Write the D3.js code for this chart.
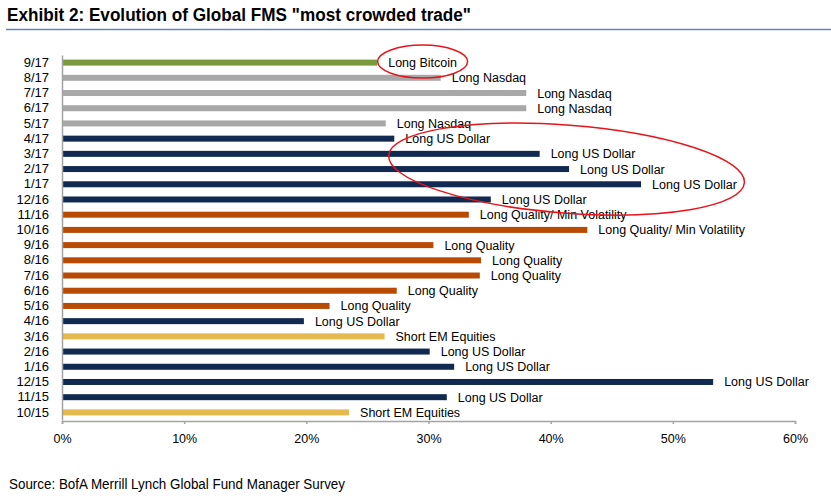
<!DOCTYPE html>
<html>
<head>
<meta charset="utf-8">
<script src="https://cdn.jsdelivr.net/npm/d3@7"></script>
<style>
  body { margin: 0; background: #fff; }
  text { font-family: "Liberation Sans", Arial, sans-serif; fill: #000; }
</style>
</head>
<body>
<div class="canva"></div>
<script>
// survey months, newest first (top of chart)
const months = ["9/17","8/17","7/17","6/17","5/17","4/17","3/17","2/17","1/17","12/16","11/16","10/16",
                "9/16","8/16","7/16","6/16","5/16","4/16","3/16","2/16","1/16","12/15","11/15","10/15"];
// % of respondents naming the trade
const shares = [25.8,31.0,38.0,38.0,26.5,27.2,39.1,41.5,47.4,35.1,33.3,43.0,
                30.4,34.3,34.2,27.4,21.9,19.8,26.4,30.1,32.1,53.3,31.5,23.5];
const trades = ["Long Bitcoin","Long Nasdaq","Long Nasdaq","Long Nasdaq","Long Nasdaq","Long US Dollar",
                "Long US Dollar","Long US Dollar","Long US Dollar","Long US Dollar","Long Quality/ Min Volatility",
                "Long Quality/ Min Volatility","Long Quality","Long Quality","Long Quality","Long Quality",
                "Long Quality","Long US Dollar","Short EM Equities","Long US Dollar","Long US Dollar",
                "Long US Dollar","Long US Dollar","Short EM Equities"];
const xTicks = [0,10,20,30,40,50,60];

const width = 831, height = 503;

const svg = d3.select(".canva").append("svg")
              .attr("width", width)
              .attr("height", height);

const x = d3.scaleLinear().domain([0, 60]).range([62, 795]);
const y = d3.scaleBand().domain(months).range([55, 420]);

const color = d3.scaleOrdinal()
  .domain(["Long US Dollar","Long Quality","Long Quality/ Min Volatility","Short EM Equities","Long Nasdaq","Long Bitcoin"])
  .range(["#112a51","#b94a02","#b94a02","#e4ba4e","#a8a8a8","#7b9a3d"]);

// Title + rule
svg.append("text")
  .attr("x", 7).attr("y", 21)
  .attr("textLength", 464).attr("lengthAdjust", "spacingAndGlyphs")
  .style("font-size", "18px").style("font-weight", "bold")
  .text('Exhibit 2: Evolution of Global FMS "most crowded trade"');
svg.append("line")
  .attr("x1", 6).attr("x2", 831).attr("y1", 29.5).attr("y2", 29.5)
  .attr("stroke", "#6586bb").attr("stroke-width", 1.5);

// Bars
const rows = months.map((m, i) => ({month: m, value: shares[i], trade: trades[i]}));

svg.selectAll("rect.bar")
  .data(rows)
  .enter()
  .append("rect")
  .attr("class", "bar")
  .attr("x", x(0))
  .attr("y", d => y(d.month) + y.bandwidth() / 2 - 3)
  .attr("width", d => x(d.value) - x(0))
  .attr("height", 6)
  .attr("fill", d => color(d.trade));

// Trade labels
const labels = svg.selectAll("text.lab")
  .data(rows)
  .enter()
  .append("text")
  .attr("class", "lab")
  .attr("x", d => x(d.value) + 11)
  .attr("y", d => y(d.month) + y.bandwidth() / 2)
  .attr("dy", "0.36em")
  .style("font-size", "12.5px")
  .text(d => d.trade);

// Axes
const yAxis = svg.append("g")
  .attr("transform", `translate(${x(0)},0)`)
  .call(d3.axisLeft(y).tickSize(0).tickPadding(13));
yAxis.selectAll("text").style("font-size", "13px").attr("font-family", null);

const xAxis = svg.append("g")
  .attr("transform", `translate(0,${y.range()[1] + 1})`)
  .call(d3.axisBottom(x).tickValues(xTicks).tickSize(3).tickSizeOuter(3).tickPadding(10)
          .tickFormat(d => d + "%"));
xAxis.selectAll("text").style("font-size", "12.5px").attr("font-family", null);

svg.selectAll(".domain, .tick line").attr("stroke", "#a3a3a3").attr("stroke-width", 1.5);

// Red circles
const btc = labels.filter(d => d.month === "9/17").node().getBBox();
svg.append("ellipse")
  .attr("cx", btc.x + btc.width / 2)
  .attr("cy", y("9/17") + y.bandwidth() / 2 - 1)
  .attr("rx", 45).attr("ry", 16.5)
  .attr("fill", "none").attr("stroke", "#e8141c").attr("stroke-width", 1.5);

const cx = x(41.3), cy = y("2/17") + y.bandwidth() / 2;
svg.append("ellipse")
  .attr("cx", cx).attr("cy", cy)
  .attr("rx", x(14.6) - x(0)).attr("ry", 44)
  .attr("transform", `rotate(4.4,${cx},${cy})`)
  .attr("fill", "none").attr("stroke", "#e8141c").attr("stroke-width", 1.5);

// Source
svg.append("text")
  .attr("x", 9).attr("y", 489)
  .attr("textLength", 336).attr("lengthAdjust", "spacingAndGlyphs")
  .style("font-size", "14px")
  .text("Source: BofA Merrill Lynch Global Fund Manager Survey");
</script>
</body>
</html>
